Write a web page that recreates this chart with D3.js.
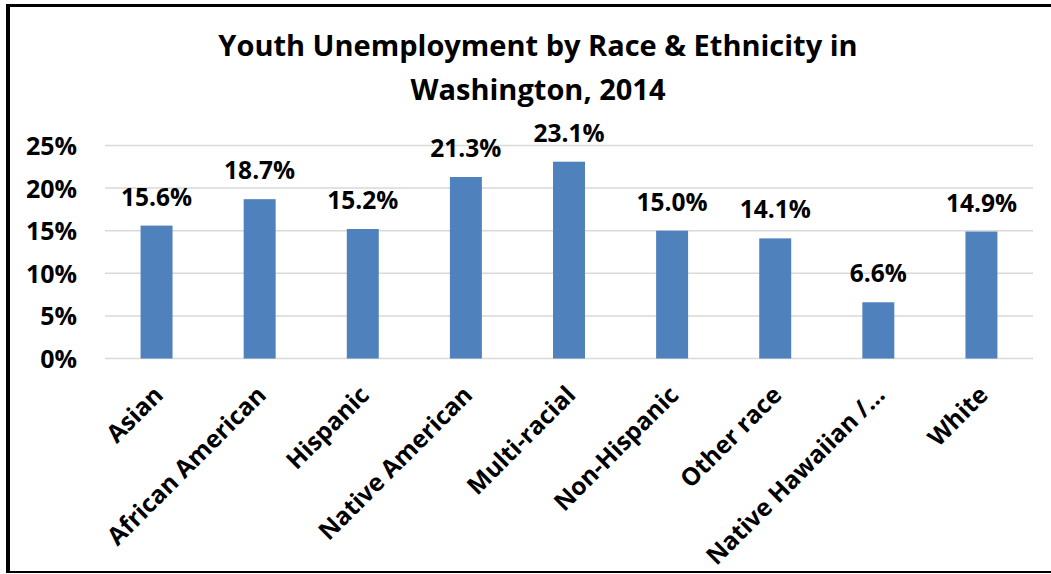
<!DOCTYPE html>
<html>
<head>
<meta charset="utf-8">
<script src="https://cdn.jsdelivr.net/npm/d3@7"></script>
<style>
  body { margin: 0; background: #fff; }
  svg { display: block; font-family: "Open Sans", Lato, sans-serif; font-weight: bold; }
</style>
</head>
<body>
<div id="chart"></div>
<script>
const categories = ["Asian", "African American", "Hispanic", "Native American", "Multi-racial",
    "Non-Hispanic", "Other race", "Native Hawaiian /\u2026", "White"];
const rates = [15.6, 18.7, 15.2, 21.3, 23.1, 15.0, 14.1, 6.6, 14.9];
const yTicks = [0, 5, 10, 15, 20, 25];
const titleLines = ["Youth Unemployment by Race & Ethnicity in", "Washington, 2014"];

const width = 1051;
const height = 574;
const margin = { top: 145.5, bottom: 215.5, left: 105, right: 18 };

const svg = d3.select('#chart')
    .append('svg')
    .attr('width', width)
    .attr('height', height);

// frame (left, top, bottom edges visible)
svg.append("rect").attr("x", 0).attr("y", 0).attr("width", width).attr("height", height).attr("fill", "#fff");
svg.append("line").attr("x1", 8).attr("x2", 8).attr("y1", 4).attr("y2", 573)
    .attr("stroke", "#000").attr("stroke-width", 4);
svg.append("line").attr("x1", 6).attr("x2", width).attr("y1", 5.5).attr("y2", 5.5)
    .attr("stroke", "#000").attr("stroke-width", 3);
svg.append("line").attr("x1", 6).attr("x2", width).attr("y1", 572).attr("y2", 572)
    .attr("stroke", "#000").attr("stroke-width", 2);

const x = d3.scaleBand()
    .domain(d3.range(categories.length))
    .range([margin.left, width - margin.right])
    .paddingInner(0.69)
    .paddingOuter(0.345);

const y = d3.scaleLinear()
    .domain([0, 25])
    .range([height - margin.bottom, margin.top]);

// gridlines
svg.append("g")
    .selectAll("line")
    .data(yTicks)
    .join("line")
    .attr("x1", margin.left)
    .attr("x2", width - margin.right)
    .attr("y1", d => y(d))
    .attr("y2", d => y(d))
    .attr("stroke", "#d9d9d9")
    .attr("stroke-width", 1.5);

// y axis labels
function yAxis(g) {
    g.attr("transform", `translate(${margin.left}, 0)`)
        .call(d3.axisLeft(y).tickValues(yTicks).tickFormat(d => d + "%").tickSize(0).tickPadding(28))
        .attr("font-size", "25px")
        .attr("font-family", null)
        .call(g => g.select(".domain").remove())
        .call(g => g.selectAll("text").attr("fill", "#000").attr("dy", "0.36em"));
}
svg.append("g").call(yAxis);

// bars
svg.append("g")
    .attr("fill", "#4f81bd")
    .selectAll("rect")
    .data(rates)
    .join("rect")
    .attr("x", (d, i) => x(i))
    .attr("y", d => y(d))
    .attr("height", d => y(0) - y(d))
    .attr("width", x.bandwidth());

// value labels
svg.append("g")
    .selectAll("text")
    .data(rates)
    .join("text")
    .attr("x", (d, i) => x(i) + x.bandwidth() / 2)
    .attr("y", d => y(d) - 20)
    .attr("text-anchor", "middle")
    .attr("font-size", "24.5px")
    .attr("fill", "#000")
    .text(d => d.toFixed(1) + "%");

// x axis labels, rotated
svg.append("g")
    .selectAll("text")
    .data(categories)
    .join("text")
    .attr("transform", (d, i) => `translate(${x(i) + x.bandwidth() / 2 + 8}, ${y(0) + 38}) rotate(-45)`)
    .attr("text-anchor", "end")
    .attr("font-size", "24.5px")
    .attr("fill", "#000")
    .text(d => d);

// title
svg.append("text")
    .attr("x", 538)
    .attr("y", 56)
    .attr("text-anchor", "middle")
    .attr("font-size", "29px")
    .attr("fill", "#000")
    .selectAll("tspan")
    .data(titleLines)
    .join("tspan")
    .attr("x", 538)
    .attr("dy", (d, i) => i === 0 ? 0 : 44)
    .text(d => d);
</script>
</body>
</html>
